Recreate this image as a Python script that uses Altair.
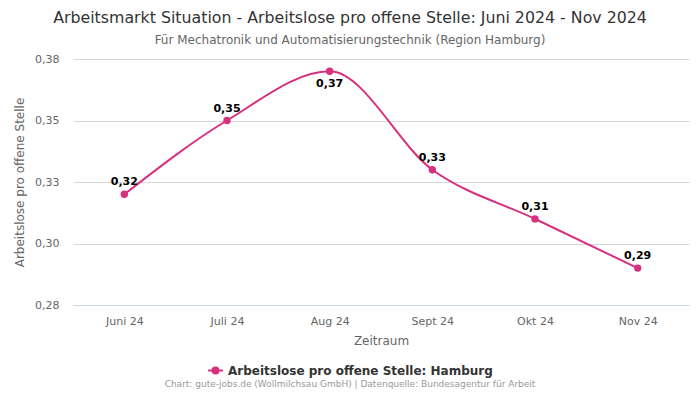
import altair as alt
import pandas as pd

months = ["Juni 24", "Juli 24", "Aug 24", "Sept 24", "Okt 24", "Nov 24"]
values = [0.32, 0.35, 0.37, 0.33, 0.31, 0.29]
y_ticks = [0.275, 0.30, 0.325, 0.35, 0.375]
series_name = "Arbeitslose pro offene Stelle: Hamburg"
credit_text = "Chart: gute-jobs.de (Wollmilchsau GmbH) | Datenquelle: Bundesagentur für Arbeit"

COLOR = "#d7307e"
FONT = "DejaVu Sans"

df = pd.DataFrame({"Monat": months, "Wert": values, "Serie": series_name})

x_enc = alt.X(
    "Monat:N",
    sort=months,
    scale=alt.Scale(paddingInner=0, paddingOuter=0.5),
    axis=alt.Axis(
        title="Zeitraum",
        labelAngle=0,
        ticks=False,
        grid=False,
        domainColor="#ccd6eb",
        labelColor="#666666",
        labelFontSize=11,
        labelPadding=10,
        titleColor="#666666",
        titleFontSize=12,
        titleFontWeight="normal",
        titlePadding=9,
    ),
)
y_enc = alt.Y(
    "Wert:Q",
    scale=alt.Scale(domain=[0.275, 0.375], nice=False, zero=False),
    axis=alt.Axis(
        title="Arbeitslose pro offene Stelle",
        values=y_ticks,
        labelExpr="replace(format(datum.value, '.2f'), '.', ',')",
        domain=False,
        ticks=False,
        gridColor="#d6d6d6",
        labelColor="#666666",
        labelFontSize=11,
        labelPadding=14,
        titleColor="#666666",
        titleFontSize=12,
        titleFontWeight="normal",
        titlePadding=8,
    ),
)

color_enc = alt.Color(
    "Serie:N",
    scale=alt.Scale(range=[COLOR]),
    legend=alt.Legend(
        title=None,
        orient="none",
        legendX=134,
        legendY=303,
        labelFontSize=12,
        labelFontWeight="bold",
        labelColor="#333333",
        labelFont=FONT,
        labelLimit=0,
        symbolType="M -1 0 L 1 0 M -0.4 0 A 0.4 0.4 0 1 0 0.4 0 A 0.4 0.4 0 1 0 -0.4 0",
        symbolSize=220,
        symbolStrokeWidth=2,
        symbolFillColor=COLOR,
        symbolStrokeColor=COLOR,
    ),
)

base = alt.Chart(df)

line = base.mark_line(interpolate="monotone", strokeWidth=2).encode(
    x=x_enc, y=y_enc, color=color_enc
)
points = base.mark_circle(size=55, opacity=1, color=COLOR).encode(x=x_enc, y=y_enc)

lab = base.transform_joinaggregate(maxv="max(Wert)").transform_calculate(
    lbl="replace(format(datum.Wert, '.2f'), '.', ',')"
)
labels_above = lab.transform_filter("datum.Wert < datum.maxv").mark_text(
    dy=-12, fontSize=11, fontWeight="bold", color="black", font=FONT
).encode(x=x_enc, y=y_enc, text="lbl:N")
labels_below = lab.transform_filter("datum.Wert >= datum.maxv").mark_text(
    dy=13, fontSize=11, fontWeight="bold", color="black", font=FONT
).encode(x=x_enc, y=y_enc, text="lbl:N")

credits = alt.Chart(pd.DataFrame({"t": [credit_text]})).mark_text(
    fontSize=9, color="#999999", font=FONT, align="center", baseline="middle"
).encode(x=alt.value(277), y=alt.value(325), text="t:N")

chart = (
    alt.layer(line, points, labels_above, labels_below, credits)
    .properties(
        width=616,
        height=246,
        title=alt.TitleParams(
            text="Arbeitsmarkt Situation - Arbeitslose pro offene Stelle: Juni 2024 - Nov 2024",
            subtitle="Für Mechatronik und Automatisierungstechnik (Region Hamburg)",
            anchor="middle",
            frame="group",
            dx=-31,
            fontSize=15.8,
            fontWeight="normal",
            color="#333333",
            font=FONT,
            subtitleFontSize=12,
            subtitleColor="#666666",
            subtitleFont=FONT,
            subtitlePadding=8,
            offset=6,
        ),
        autosize=alt.AutoSizeParams(type="none"),
        padding={"left": 65, "top": 51, "right": 3, "bottom": 86},
    )
    .configure_view(stroke=None)
    .configure_axis(labelFont=FONT, titleFont=FONT)
)

chart.save("out.html", embed_options={"renderer": "svg", "actions": False})
